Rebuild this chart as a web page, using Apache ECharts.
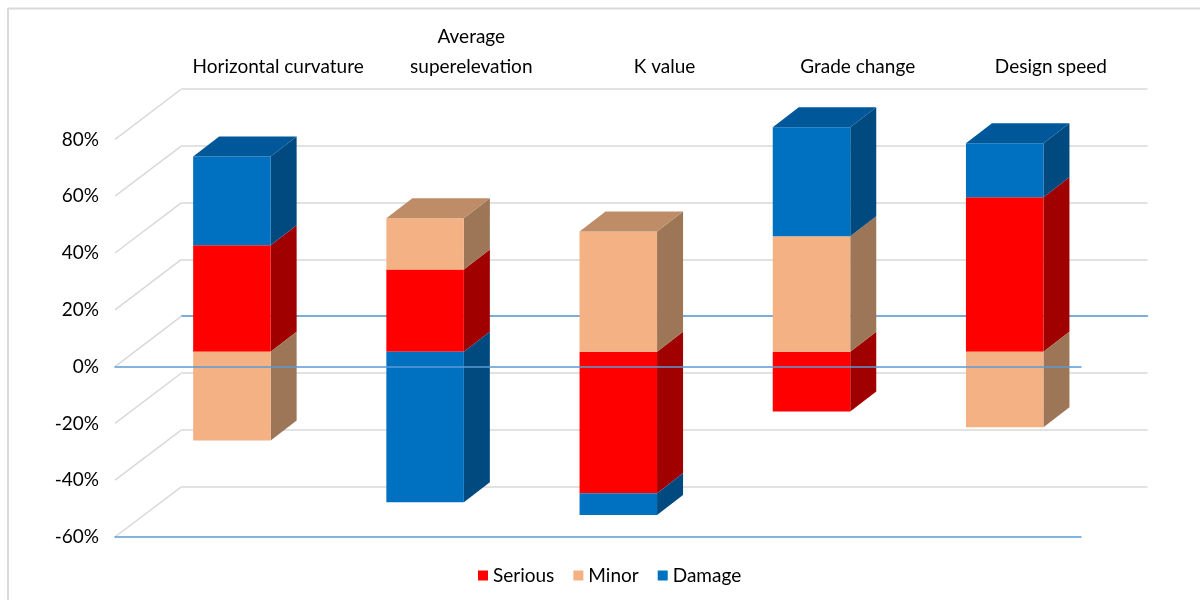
<!DOCTYPE html>
<html>
<head>
<meta charset="utf-8">
<style>html, body { margin: 0; background: #fff; } #chart { width: 1200px; height: 600px; }</style>
<script src="https://cdn.jsdelivr.net/npm/echarts@6/dist/echarts.min.js"></script>
</head>
<body>
<div id="chart"></div>
<script>
const categories = ['Horizontal curvature', 'Average\nsuperelevation', 'K value', 'Grade change', 'Design speed'];
const serious = [37.5, 29, -49.8, -21, 54.4];
const minor = [-31.2, 18, 42.4, 40.7, -26.6];
const damage = [31.3, -53, -7.7, 38.4, 19];
const yTicks = [-60, -40, -20, 0, 20, 40, 60, 80];

const font = 'Lato, sans-serif';
const wallDx = 66.5, wallDy = -50.4;
const barWidth = 77.5, barDx = 20.3, barDy = -14.8, depthDx = 26, depthDy = -20;

// stack the three series the way Excel does: positives upward, negatives downward
const stackSeries = [serious, minor, damage];
function stackRows(k) {
  return categories.map((_, i) => {
    const v = stackSeries[k][i];
    let base = 0, isTop = v > 0;
    stackSeries.forEach((s, j) => {
      if (j < k && s[i] * v > 0) base += s[i];
      if (j > k && s[i] * v > 0) isTop = false;
    });
    return [i, base, base + v, isTop ? 1 : 0];
  });
}

function box(front, side, top) {
  return (params, api) => {
    const a = api.coord([api.value(0), api.value(1)]);
    const b = api.coord([api.value(0), api.value(2)]);
    const l = a[0] - barWidth / 2 + barDx, r = l + barWidth;
    const y0 = a[1] + barDy, y1 = b[1] + barDy;
    const yTop = Math.min(y0, y1), yBot = Math.max(y0, y1);
    const poly = (points, fill) => ({ type: 'polygon', shape: { points }, style: { fill } });
    const children = [
      poly([[r, yTop], [r + depthDx, yTop + depthDy], [r + depthDx, yBot + depthDy], [r, yBot]], side),
      poly([[l, yTop], [r, yTop], [r, yBot], [l, yBot]], front)
    ];
    if (api.value(3)) {
      children.push(poly([[l, yTop], [l + depthDx, yTop + depthDy], [r + depthDx, yTop + depthDy], [r, yTop]], top));
    }
    return { type: 'group', children };
  };
}

function barSeries(name, k, front, side, top) {
  return {
    name, type: 'custom', xAxisIndex: 0, yAxisIndex: 0, clip: false, z: 3,
    itemStyle: { color: front },
    data: stackRows(k),
    encode: { x: 0, y: [1, 2] },
    renderItem: box(front, side, top)
  };
}

const chart = echarts.init(document.getElementById('chart'), null, { renderer: 'canvas' });
chart.setOption({
  animation: false,
  backgroundColor: '#fff',
  textStyle: { fontFamily: font },
  graphic: [
    { type: 'line', shape: { x1: 8, y1: 8.5, x2: 1200, y2: 8.5 }, style: { stroke: '#d9d9d9', lineWidth: 2 } },
    { type: 'line', shape: { x1: 8, y1: 8, x2: 8, y2: 600 }, style: { stroke: '#d9d9d9', lineWidth: 2 } }
  ],
  legend: {
    data: ['Serious', 'Minor', 'Damage'],
    bottom: 10, left: 473,
    icon: 'rect', itemWidth: 10, itemHeight: 10, itemGap: 19,
    textStyle: { fontFamily: font, fontSize: 19, color: '#000' }
  },
  grid: [
    { left: 115, top: 139.4, width: 966, height: 397.6 },
    { left: 181.5, top: 89, width: 966, height: 397.6 }
  ],
  xAxis: [
    // front floor edge at -60%
    { type: 'category', gridIndex: 0, data: categories, position: 'bottom', z: 4,
      axisLine: { onZero: false, lineStyle: { color: '#5b9bd5', width: 1.5 } }, axisTick: { show: false }, axisLabel: { show: false } },
    // front zero line, drawn over the bars
    { type: 'category', gridIndex: 0, data: categories, position: 'top', z: 4,
      axisLine: { onZero: true, lineStyle: { color: '#5b9bd5', width: 1.5 } }, axisTick: { show: false }, axisLabel: { show: false } },
    // back wall: category labels sit above it
    { type: 'category', gridIndex: 1, data: categories, position: 'top',
      axisLine: { show: false, onZero: false }, axisTick: { show: false },
      axisLabel: { interval: 0, margin: 7, fontFamily: font, fontSize: 19, lineHeight: 30, color: '#000' } },
    // back wall zero line
    { type: 'category', gridIndex: 1, data: categories, position: 'bottom',
      axisLine: { onZero: true, lineStyle: { color: '#5b9bd5', width: 1.5 } }, axisTick: { show: false }, axisLabel: { show: false } }
  ],
  yAxis: [
    { type: 'value', gridIndex: 0, min: -60, max: 80, interval: 20,
      axisLine: { show: false }, axisTick: { show: false }, splitLine: { show: false },
      axisLabel: { margin: 16, formatter: '{value}%', fontFamily: font, fontSize: 19, color: '#000' } },
    { type: 'value', gridIndex: 1, min: -60, max: 80, interval: 20,
      axisLine: { show: false }, axisTick: { show: false }, axisLabel: { show: false },
      splitLine: { lineStyle: { color: '#d9d9d9', width: 1.5 } } }
  ],
  series: [
    {
      name: 'walls', type: 'custom', xAxisIndex: 0, yAxisIndex: 0, clip: false, z: 1, silent: true,
      data: yTicks.map(v => [0, v]),
      encode: { y: 1 },
      renderItem(params, api) {
        const y = api.coord([0, api.value(1)])[1];
        const x = params.coordSys.x;
        return { type: 'line', shape: { x1: x, y1: y, x2: x + wallDx, y2: y + wallDy }, style: { stroke: '#d9d9d9', lineWidth: 1.5 } };
      }
    },
    barSeries('Serious', 0, '#ff0000', '#a00000', '#a80000'),
    barSeries('Minor', 1, '#f4b183', '#9c7656', '#bf8c68'),
    barSeries('Damage', 2, '#0070c0', '#004a80', '#00589a')
  ]
});
</script>
</body>
</html>
